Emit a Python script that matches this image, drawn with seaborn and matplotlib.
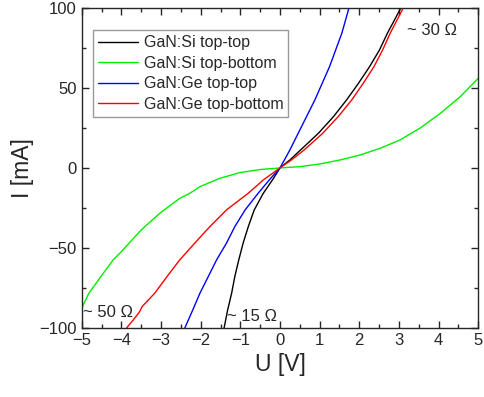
import pandas as pd
import numpy as np
import matplotlib.pyplot as plt
import seaborn as sns
from matplotlib.ticker import MultipleLocator

# ---------------------------------------------------------
# I-V DATA
# ---------------------------------------------------------

u_si_tt = [-1.41, -1.32, -1.22, -1.14, -1.04, -0.93, -0.80, -0.65, -0.42, -0.19, 0,
           0.25, 0.52, 0.97, 1.35, 1.68, 1.98, 2.26, 2.51, 2.71, 3.05]
i_si_tt = [-100, -88.75, -78.3, -67.9, -57.5, -47, -36.7, -26.25, -15.8, -7.5, 0,
           5, 11.25, 21.7, 32.1, 42.5, 52.9, 63.3, 73.75, 84.2, 100]

u_si_tb = [-5, -4.82, -4.55, -4.21, -4.04, -3.54, -3.41, -3.03, -2.53, -2.27, -2.02,
           -1.52, -1.01, -0.5, 0, 0.5, 1.01, 1.52, 2.02, 2.53, 3.03, 3.54, 4.04, 4.55, 5]
i_si_tb = [-87.5, -78.3, -69, -57.5, -53.3, -39.8, -36.7, -28.3, -19, -15.8, -11.7,
           -6.5, -2.9, -1, 0, 0.8, 2.5, 5, 8.1, 12.3, 17.5, 25, 34, 44.6, 56]

u_ge_tt = [-2.4, -2.2, -2.02, -1.81, -1.6, -1.35, -1.14, -0.88, -0.55, -0.27, 0,
           0.25, 0.46, 0.88, 1.25, 1.56, 1.74]
i_ge_tt = [-100, -88.75, -78.3, -67.9, -57.5, -47, -36.7, -26.25, -15.8, -7.5, 0,
           11.25, 21.7, 42.5, 63.3, 84.2, 100]

u_ge_tb = [-3.87, -3.7, -3.54, -3.48, -3.16, -2.85, -2.53, -2.15, -1.77, -1.35, -0.80,
           -0.42, 0, 0.29, 0.61, 1.08, 1.47, 1.81, 2.10, 2.37, 2.59, 2.78, 3.11]
i_ge_tb = [-100, -95, -89.8, -86.7, -78.3, -67.9, -57.5, -47, -36.7, -26.25, -15.8,
           -7.5, 0, 5, 11.25, 21.7, 32.1, 42.5, 52.9, 63.3, 73.75, 84.2, 100]

labels = ["GaN:Si top-top", "GaN:Si top-bottom", "GaN:Ge top-top", "GaN:Ge top-bottom"]
colors = ["black", "#00ee00", "blue", "red"]

frames = []
for name, u, i in zip(labels, [u_si_tt, u_si_tb, u_ge_tt, u_ge_tb],
                      [i_si_tt, i_si_tb, i_ge_tt, i_ge_tb]):
    frames.append(pd.DataFrame({"U": u, "I": i, "Sample": name}))
df = pd.concat(frames, ignore_index=True)

# ---------------------------------------------------------
# PLOT
# ---------------------------------------------------------

sns.set_style("ticks")
plt.rcParams["font.family"] = ["Liberation Sans", "DejaVu Sans"]

fig = plt.figure(figsize=(4.84, 3.97), dpi=100)
ax = fig.add_axes([0.169, 0.174, 0.819, 0.806])

sns.lineplot(data=df, x="U", y="I", hue="Sample", hue_order=labels,
             palette=colors, sort=False, estimator=None, linewidth=1.0, ax=ax)

ax.set_xlim(-5, 5)
ax.set_ylim(-100, 100)
ax.xaxis.set_major_locator(MultipleLocator(1))
ax.xaxis.set_minor_locator(MultipleLocator(0.5))
ax.yaxis.set_major_locator(MultipleLocator(50))
ax.yaxis.set_minor_locator(MultipleLocator(25))
ax.tick_params(which="both", direction="in", top=True, right=True, labelsize=12, width=1)
ax.tick_params(which="major", length=5)
ax.tick_params(which="minor", length=3)
for s in ax.spines.values():
    s.set_linewidth(1)

ax.set_xlabel("U [V]", fontsize=16.5)
ax.set_ylabel("I [mA]", fontsize=16.5)

ax.text(3.2, 86, "~ 30 \u03a9", fontsize=12, va="center")
ax.text(-4.97, -90.5, "~ 50 \u03a9", fontsize=12, va="center")
ax.text(-1.33, -93, "~ 15 \u03a9", fontsize=12, va="center")

leg = ax.legend(loc="upper left", bbox_to_anchor=(0.028, 0.93), borderaxespad=0,
                fontsize=11.5, frameon=True, fancybox=False, framealpha=1,
                edgecolor="#999999", handlelength=2.5, labelspacing=0.35,
                borderpad=0.3, handletextpad=0.4)
leg.get_frame().set_linewidth(1)

fig.savefig("out.png", dpi=100)
